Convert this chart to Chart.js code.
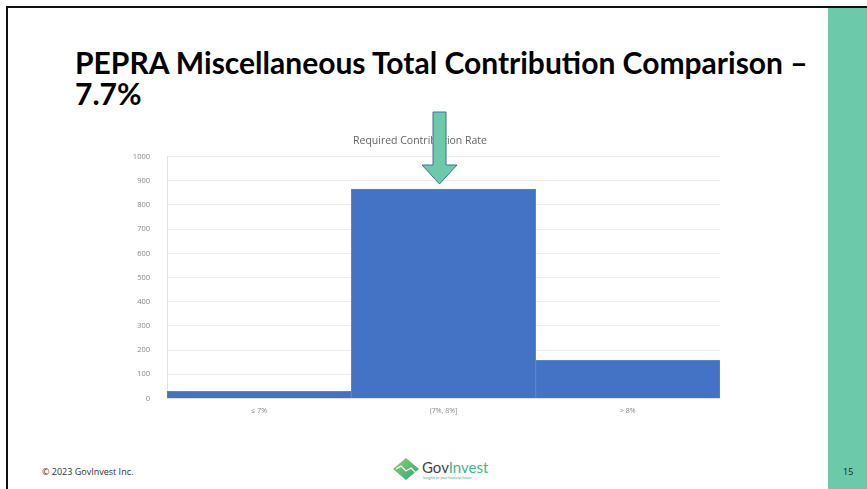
<!DOCTYPE html>
<html>
<head>
<meta charset="utf-8">
<script src="https://cdn.jsdelivr.net/npm/chart.js@4/dist/chart.umd.min.js"></script>
<style>
  html, body { margin: 0; padding: 0; background: #fff; }
  body { width: 867px; height: 489px; position: relative; overflow: hidden; font-family: 'Open Sans', sans-serif; }
  #frameTop { position: absolute; left: 6px; top: 6px; width: 861px; height: 2px; background: #111; }
  #frameLeft { position: absolute; left: 6px; top: 6px; width: 2px; height: 483px; background: #111; }
  #greenBar { position: absolute; left: 828px; top: 8px; width: 39px; height: 481px; background: #6cc9aa; }
  #title { position: absolute; left: 75px; top: 47px; font-family: Lato, sans-serif; font-weight: bold; color: #000; line-height: 31px; white-space: nowrap; font-size: 26px; }
  #chartBox { position: absolute; left: 120px; top: 108px; width: 610px; height: 312px; }
  #copy { position: absolute; left: 42px; top: 465px; font-size: 9px; color: #333; font-family: 'Open Sans', sans-serif; }
  #page { position: absolute; left: 843px; top: 465px; font-size: 9px; color: #222; font-family: 'Open Sans', sans-serif; }
  #logo { position: absolute; left: 392px; top: 455px; width: 110px; height: 30px; }
</style>
</head>
<body>
<div id="frameTop"></div>
<div id="frameLeft"></div>
<div id="greenBar"></div>
<div id="title"><span id="t1">PEPRA Miscellaneous Total Contribution Comparison –</span><br>7.7%</div>
<div id="chartBox"><canvas id="c"></canvas></div>
<div id="copy">© 2023 GovInvest Inc.</div>
<div id="page">15</div>
<svg id="logo" viewBox="0 0 110 30" xmlns="http://www.w3.org/2000/svg">
  <defs>
    <linearGradient id="lg" x1="0" y1="0" x2="1" y2="1">
      <stop offset="0" stop-color="#8fd36a"/>
      <stop offset="1" stop-color="#2fa57a"/>
    </linearGradient>
  </defs>
  <polygon points="14,3 27,14 14,25 1,14" fill="url(#lg)"/>
  <polyline points="4,14 9,11 14,16 19,13 24,18" fill="none" stroke="#fff" stroke-width="1.3"/>
  <text x="30" y="18" font-family="Lato, sans-serif" font-size="15" fill="#444">Gov<tspan fill="#3fb58a">Invest</tspan></text>
  <text x="31" y="24" font-family="Lato, sans-serif" font-size="3.6" fill="#3fb58a">Insights to your financial future</text>
</svg>
<script>
  // Data
  const categories = ['≤ 7%', '(7%, 8%]', '> 8%'];
  const counts = [30, 866, 158];
  const yTicks = [0, 100, 200, 300, 400, 500, 600, 700, 800, 900, 1000];
  const chartTitle = 'Required Contribution Rate';

  // Fit slide title width
  (function () {
    const t1 = document.getElementById('t1');
    const w = t1.getBoundingClientRect().width;
    const target = 733;
    const fs = 26 * target / w;
    document.getElementById('title').style.fontSize = fs.toFixed(2) + 'px';
  })();

  const arrowPlugin = {
    id: 'arrow',
    afterDraw(chart) {
      const meta = chart.getDatasetMeta(0);
      const bar = meta.data[1];
      if (!bar) return;
      const ctx = chart.ctx;
      const cx = bar.x - 4;
      const tipY = bar.y - 5;
      const headH = 19, headW = 35, shaftW = 13;
      const shaftTop = 4;
      ctx.save();
      ctx.beginPath();
      ctx.moveTo(cx - shaftW / 2, shaftTop);
      ctx.lineTo(cx + shaftW / 2, shaftTop);
      ctx.lineTo(cx + shaftW / 2, tipY - headH);
      ctx.lineTo(cx + headW / 2, tipY - headH);
      ctx.lineTo(cx, tipY);
      ctx.lineTo(cx - headW / 2, tipY - headH);
      ctx.lineTo(cx - shaftW / 2, tipY - headH);
      ctx.closePath();
      ctx.fillStyle = '#6cc9aa';
      ctx.fill();
      ctx.strokeStyle = '#41719c';
      ctx.lineWidth = 1;
      ctx.stroke();
      ctx.restore();
    }
  };

  new Chart(document.getElementById('c'), {
    type: 'bar',
    data: {
      labels: categories,
      datasets: [{
        data: counts,
        backgroundColor: '#4472c4',
        borderColor: '#5b84cc',
        borderWidth: 1,
        borderSkipped: 'bottom',
        categoryPercentage: 1,
        barPercentage: 1
      }]
    },
    options: {
      responsive: true,
      maintainAspectRatio: false,
      animation: false,
      layout: { padding: { left: 0, right: 10, top: 20, bottom: 0 } },
      plugins: {
        legend: { display: false },
        tooltip: { enabled: false },
        title: {
          display: true,
          text: chartTitle,
          color: '#666',
          font: { family: 'Open Sans', size: 10.5, weight: 'normal' },
          padding: { top: 7, bottom: 9 }
        }
      },
      scales: {
        x: {
          grid: { display: false },
          border: { color: '#e0e0e0' },
          ticks: { color: '#888', font: { family: 'Open Sans', size: 7 }, padding: 0 }
        },
        y: {
          min: 0, max: 1000,
          afterBuildTicks(axis) { axis.ticks = yTicks.map(v => ({ value: v })); },
          afterFit(axis) { axis.width = 47; },
          grid: { color: '#ececec', drawTicks: false },
          border: { color: '#e0e0e0' },
          ticks: { color: '#888', font: { family: 'Open Sans', size: 7.5 }, padding: 17, callback: (v) => String(v) }
        }
      }
    },
    plugins: [arrowPlugin]
  });
</script>
</body>
</html>
